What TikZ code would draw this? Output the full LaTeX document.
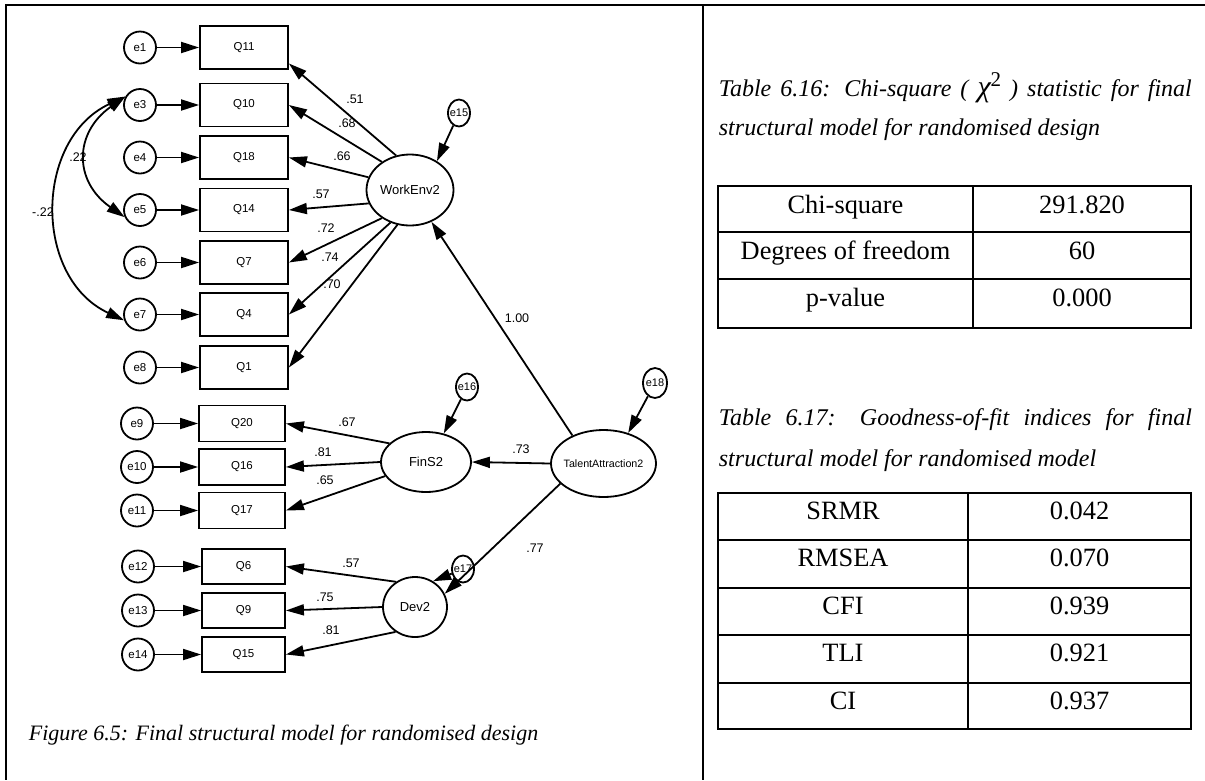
\documentclass[tikz,border=0pt]{standalone}
\usepackage{fontspec}
\setmainfont{Liberation Serif}
\setsansfont{Liberation Sans}
\usetikzlibrary{arrows.meta, shapes.geometric}
\tikzset{
  every picture/.style={line width=1.8pt},
  obs/.style={draw, rectangle, minimum width=88pt, minimum height=43pt, inner sep=0pt, font=\sffamily\fontsize{11.5}{12}\selectfont},
  err/.style={draw, circle, minimum size=32pt, inner sep=0pt, font=\sffamily\fontsize{11.5}{12}\selectfont},
  serr/.style={draw, ellipse, minimum width=22pt, minimum height=27pt, inner sep=0pt, inner xsep=-1.5pt, font=\sffamily\fontsize{11}{12}\selectfont},
  lat/.style={draw, ellipse, inner sep=0pt, font=\sffamily\fontsize{13}{14}\selectfont},
  coef/.style={inner sep=0pt, font=\sffamily\fontsize{12.5}{13}\selectfont},
  arr/.style={-{Triangle[length=18pt, width=11pt]}},
  cov/.style={{Triangle[length=18pt, width=11pt]}-{Triangle[length=18pt, width=11pt]}},
  captxt/.style={inner sep=0pt, font=\itshape\fontsize{24}{28}\selectfont},
  cell/.style={inner sep=0pt, font=\fontsize{26.4}{30}\selectfont},
  rule/.style={line width=2pt},
}
\newcommand{\chisq}{{\fontsize{30}{30}\selectfont χ}\raisebox{10pt}{\upshape\fontsize{21}{21}\selectfont 2}}
\begin{document}
\begin{tikzpicture}[x=1pt, y=1pt]
  \useasboundingbox (0,0) rectangle (1205,-780);
  % page frame
  \draw[line width=2.7pt] (6,-4) -- (6,-780);
  \draw[line width=2.5pt] (5,-5) -- (20,-5);
  \draw[line width=1.2pt] (6,-5) -- (690,-5);
  \draw[rule] (689,-5) -- (1205,-5);
  \draw[rule] (702.5,-5) -- (702.5,-780);

  % indicators of WorkEnv2
  \foreach \q/\e/\y in {Q11/e1/47.5, Q10/e3/105, Q18/e4/157.5, Q14/e5/210, Q7/e6/262.5, Q4/e7/314.5, Q1/e8/367.5} {
    \node[obs] (\q) at (244,-\y) {\q};
    \node[err] (\e) at (140,-\y) {\e};
    \draw[arr] (\e) -- (\q);
  }
  % indicators of FinS2
  \foreach \q/\e/\y in {Q20/e9/423.5, Q16/e10/467, Q17/e11/510.5} {
    \node[obs, minimum width=86pt, minimum height=36pt] (\q) at (242,-\y) {\q};
    \node[err] (\e) at (137,-\y) {\e};
    \draw[arr] (\e) -- (\q);
  }
  % indicators of Dev2
  \foreach \q/\e/\y in {Q6/e12/566.5, Q9/e13/610.5, Q15/e14/654.5} {
    \node[obs, minimum width=83pt, minimum height=35pt] (\q) at (243.5,-\y) {\q};
    \node[err] (\e) at (138,-\y) {\e};
    \draw[arr] (\e) -- (\q);
  }

  % latent variables
  \node[lat, minimum width=87pt, minimum height=71pt] (WorkEnv) at (410,-190) {WorkEnv2};
  \node[lat, minimum width=90pt, minimum height=60pt] (FinS) at (426,-462) {FinS2};
  \node[lat, minimum width=64pt, minimum height=60pt] (Dev) at (415,-607) {Dev2};
  \node[lat, minimum width=105pt, minimum height=67pt, inner xsep=-5pt, font=\sffamily\fontsize{10.7}{12}\selectfont] (Talent) at (603.5,-463.5) {TalentAttraction2};

  \node[serr] (e15) at (459,-113) {e15};
  \node[serr] (e16) at (467,-387) {e16};
  \node[serr] (e17) at (463,-569) {e17};
  \node[serr, minimum width=24pt, minimum height=30pt] (e18) at (655,-383) {e18};
  \draw[arr] (e15) -- (WorkEnv.47);
  \draw[arr] (e16) -- (FinS.58);
  \draw[arr] (e17) -- (Dev.55);
  \draw[arr] (e18) -- (Talent.51);

  % loadings
  \draw[arr] (WorkEnv.112) -- ([yshift=-16pt]Q11.east);
  \foreach \a/\q in {135/Q10, 163/Q18, 198/Q14, 225/Q7, 239/Q4, 250/Q1}
    \draw[arr] (WorkEnv.\a) -- (\q.east);
  \foreach \a/\q in {153/Q20, 180/Q16, 199/Q17}
    \draw[arr] (FinS.\a) -- (\q.east);
  \foreach \a/\q in {127/Q6, 180/Q9, 232/Q15}
    \draw[arr] (Dev.\a) -- (\q.east);

  % structural paths
  \draw[arr] (Talent.138) -- (WorkEnv.304);
  \draw[arr] (Talent.west) -- (FinS.east);
  \draw[arr] (Talent.205) -- (Dev.24);

  % error covariances
  \draw[cov] (e3.150) to[out=215, in=145, looseness=1.33] (e5.205);
  \draw[cov] (e3.150) to[out=205, in=155, looseness=1.15] (e7.200);

  % coefficients
  \foreach \v/\x/\y [count=\i] in {.51/355/99, .68/347/123, .66/342/156, .57/321/194, .72/326/228, .74/330/257, .70/332/284,
      .67/347/422, .81/323/452, .65/325/480, .57/351/563, .75/325/597, .81/331/630,
      1.00/517/318, .73/521/449, .77/535/548, .22/78/157, -.22/43/212}
    \node[coef] (c\i) at (\x,-\y) {\v};

  % caption of the figure
  \node[captxt, font=\itshape\fontsize{22}{26}\selectfont, anchor=base west] (fig) at (28,-740) {Figure 6.5: Final structural model for randomised design};

  % table 6.16
  \node[captxt, anchor=base west] (t16a) at (718,-96) {\makebox[473pt][s]{Table 6.16: Chi-square ( \chisq{} ) statistic for final}};
  \node[captxt, anchor=base west] (t16b) at (718,-135) {structural model for randomised design};
  \draw[rule] (718,-186) rectangle (1191,-328);
  \draw[rule] (973,-186) -- (973,-328);
  \foreach \y in {232, 279} \draw[rule] (718,-\y) -- (1191,-\y);
  \foreach \k/\v/\y [count=\i] in {Chi-square/291.820/186, Degrees of freedom/60/232, p-value/0.000/279} {
    \node[cell, anchor=base] (k\i) at (845.5,-\y-27) {\k};
    \node[cell, anchor=base] (v\i) at (1082,-\y-27) {\v};
  }

  % table 6.17
  \node[captxt, anchor=base west] (t17a) at (718,-425) {\makebox[473pt][s]{Table 6.17: Goodness-of-fit indices for final}};
  \node[captxt, anchor=base west] (t17b) at (718,-466) {structural model for randomised model};
  \draw[rule] (718,-493) rectangle (1191,-729);
  \draw[rule] (968,-493) -- (968,-729);
  \foreach \y in {540, 588, 635, 683} \draw[rule] (718,-\y) -- (1191,-\y);
  \foreach \k/\v/\y [count=\i] in {SRMR/0.042/493, RMSEA/0.070/540, CFI/0.939/588, TLI/0.921/635, CI/0.937/683} {
    \node[cell, anchor=base] (f\i) at (843,-\y-26.5) {\k};
    \node[cell, anchor=base] (g\i) at (1079.5,-\y-26.5) {\v};
  }
\end{tikzpicture}
\end{document}
